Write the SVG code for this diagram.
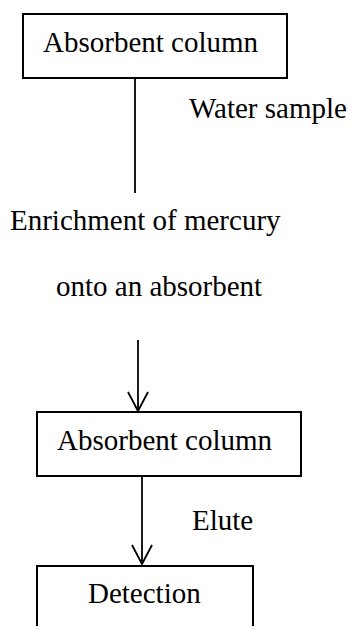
<svg xmlns="http://www.w3.org/2000/svg" width="351" height="626" viewBox="0 0 351 626">
<style>
.box{fill:#fff;stroke:#000;stroke-width:2}
.t{font-family:"Liberation Serif","Times New Roman",serif;font-size:29px;fill:#000}
.c{stroke:#000;stroke-width:1.8;fill:none}
</style>
<rect width="351" height="626" fill="#fff"/>
<g id="connectors">
<line class="c" x1="135" y1="78" x2="135" y2="193"/>
<line class="c" x1="138" y1="340" x2="138" y2="411"/>
<polyline class="c" points="128,392 138,411 148,392"/>
<line class="c" x1="142" y1="476" x2="142" y2="564"/>
<polyline class="c" points="132,545 142,564 152,545"/>
</g>
<g id="node-absorbent1">
<rect class="box" x="23" y="14" width="264" height="64"/>
<text class="t" x="43" y="52">Absorbent column</text>
</g>
<g id="label-water">
<text class="t" x="189" y="118">Water sample</text>
</g>
<g id="node-enrichment">
<text class="t" x="10" y="230">Enrichment of mercury</text>
<text class="t" x="56" y="296">onto an absorbent</text>
</g>
<g id="node-absorbent2">
<rect class="box" x="37" y="412" width="264" height="64"/>
<text class="t" x="57" y="450">Absorbent column</text>
</g>
<g id="label-elute">
<text class="t" x="192" y="530">Elute</text>
</g>
<g id="node-detection">
<rect class="box" x="37" y="566" width="216" height="80"/>
<text class="t" x="88" y="603">Detection</text>
</g>
</svg>
